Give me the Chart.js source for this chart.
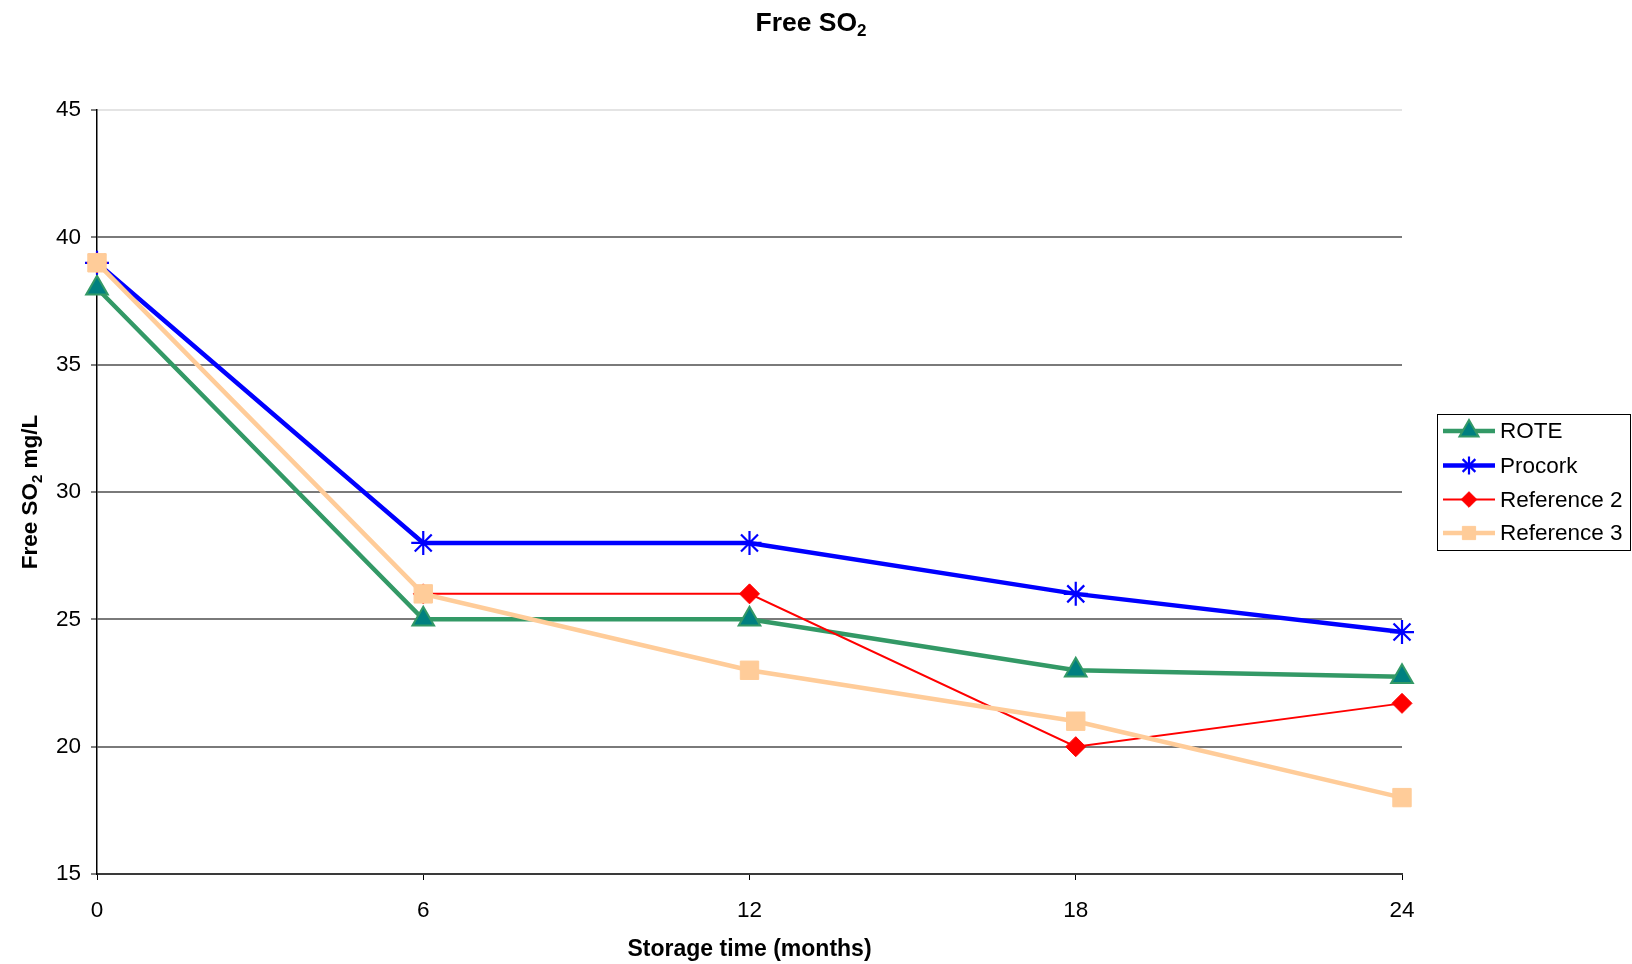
<!DOCTYPE html>
<html>
<head>
<meta charset="utf-8">
<title>Free SO2</title>
<script src="https://cdn.jsdelivr.net/npm/chart.js@4/dist/chart.umd.min.js"></script>
<style>
  html, body { margin: 0; padding: 0; background: #ffffff; }
  #wrap { width: 1632px; height: 964px; position: relative; }
  canvas { display: block; }
</style>
</head>
<body>
<div id="wrap"><canvas id="chart" width="1632" height="964"></canvas></div>
<script>
// Storage time categories (months) and measured free SO2 (mg/L)
const months = ['0', '6', '12', '18', '24'];
const yTickValues = [15, 20, 25, 30, 35, 40, 45];
const rote = [38, 25, 25, 23, 22.75];
const procork = [39, 28, 28, 26, 24.5];
const reference2 = [39, 26, 26, 20, 21.7];
const reference3 = [39, 26, 23, 21, 18];
const seriesNames = ['ROTE', 'Procork', 'Reference 2', 'Reference 3'];

const FONT = '"Liberation Sans", Arial, Helvetica, sans-serif';

const datasets = [
  {
    label: seriesNames[0], data: rote,
    borderColor: '#339966', borderWidth: 4.5,
    pointStyle: 'triangle', pointRadius: 12.5,
    pointBackgroundColor: '#008080', pointBorderColor: '#339966', pointBorderWidth: 2,
    order: 4
  },
  {
    label: seriesNames[1], data: procork,
    borderColor: '#0000ff', borderWidth: 4.5,
    pointStyle: 'star', pointRadius: 12,
    pointBackgroundColor: '#0000ff', pointBorderColor: '#0000ff', pointBorderWidth: 2.2,
    order: 3
  },
  {
    label: seriesNames[2], data: reference2,
    borderColor: '#ff0000', borderWidth: 2,
    pointStyle: 'rectRot', pointRadius: 10,
    pointBackgroundColor: '#ff0000', pointBorderColor: '#ff0000', pointBorderWidth: 1,
    order: 2
  },
  {
    label: seriesNames[3], data: reference3,
    borderColor: '#ffcc99', borderWidth: 4.5,
    pointStyle: 'rect', pointRadius: 13,
    pointBackgroundColor: '#ffcc99', pointBorderColor: '#ffcc99', pointBorderWidth: 1,
    order: 1
  }
].map(d => Object.assign({ tension: 0, fill: false, clip: false, pointHoverRadius: d.pointRadius }, d));

// Draws a run of text pieces (with subscripts) centred on x
function drawRuns(ctx, runs, x, y) {
  let total = 0;
  runs.forEach(r => { ctx.font = r.font; r.w = ctx.measureText(r.text).width; total += r.w; });
  let cx = x - total / 2;
  ctx.textAlign = 'left';
  ctx.textBaseline = 'alphabetic';
  runs.forEach(r => {
    ctx.font = r.font;
    ctx.fillText(r.text, cx, y + (r.dy || 0));
    cx += r.w;
  });
}

const textAndLegend = {
  id: 'textAndLegend',
  afterDraw(chart) {
    const ctx = chart.ctx;
    const area = chart.chartArea;
    ctx.save();
    ctx.fillStyle = '#000000';

    // Chart title
    drawRuns(ctx, [
      { text: 'Free SO', font: 'bold 26.5px ' + FONT },
      { text: '2', font: 'bold 17px ' + FONT, dy: 5 }
    ], 811, 31);

    // Y axis title (rotated)
    ctx.save();
    ctx.translate(36.5, (area.top + area.bottom) / 2);
    ctx.rotate(-Math.PI / 2);
    drawRuns(ctx, [
      { text: 'Free SO', font: 'bold 22.5px ' + FONT },
      { text: '2', font: 'bold 15px ' + FONT, dy: 5 },
      { text: ' mg/L', font: 'bold 22.5px ' + FONT }
    ], 0, 0);
    ctx.restore();

    // Legend box
    const box = { x: 1437.5, y: 414.5, w: 193, h: 136 };
    ctx.fillStyle = '#ffffff';
    ctx.fillRect(box.x, box.y, box.w, box.h);
    ctx.strokeStyle = '#000000';
    ctx.lineWidth = 1;
    ctx.strokeRect(box.x, box.y, box.w, box.h);

    const rowY = [431, 465.5, 499.5, 533];
    const legendScale = [0.88, 0.75, 0.78, 0.72];
    chart.data.datasets.forEach((ds, i) => {
      const y = rowY[i];
      ctx.strokeStyle = ds.borderColor;
      ctx.lineWidth = ds.borderWidth;
      ctx.beginPath();
      ctx.moveTo(1443, y);
      ctx.lineTo(1495, y);
      ctx.stroke();
      ctx.fillStyle = ds.pointBackgroundColor;
      ctx.strokeStyle = ds.pointBorderColor;
      ctx.lineWidth = ds.pointBorderWidth;
      Chart.helpers.drawPoint(ctx, {
        pointStyle: ds.pointStyle,
        radius: ds.pointRadius * legendScale[i],
        rotation: 0,
        borderWidth: ds.pointBorderWidth
      }, 1469, y);
      ctx.fillStyle = '#000000';
      ctx.font = '22.5px ' + FONT;
      ctx.textAlign = 'left';
      ctx.textBaseline = 'middle';
      ctx.fillText(ds.label, 1500, y + 1);
    });
    ctx.restore();
  }
};

new Chart(document.getElementById('chart'), {
  type: 'line',
  data: { labels: months, datasets },
  plugins: [textAndLegend],
  options: {
    responsive: false,
    animation: false,
    devicePixelRatio: 1,
    layout: { padding: { left: 0, top: 110, right: 230, bottom: 0 } },
    plugins: {
      legend: { display: false },
      title: { display: false },
      tooltip: { enabled: false }
    },
    scales: {
      x: {
        type: 'category',
        offset: false,
        afterFit(scale) { scale.height = 90; },
        grid: {
          drawOnChartArea: false,
          drawTicks: true,
          tickLength: 6,
          tickColor: '#000000',
          tickWidth: 1
        },
        border: { display: true, color: '#3a3a3a', width: 2 },
        ticks: {
          color: '#000000',
          font: { family: FONT, size: 22.5 },
          padding: 17,
          maxRotation: 0,
          autoSkip: false
        },
        title: {
          display: true,
          text: 'Storage time (months)',
          color: '#000000',
          font: { family: FONT, size: 23, weight: 'bold' },
          padding: { top: 0, bottom: 1 }
        }
      },
      y: {
        type: 'linear',
        min: yTickValues[0],
        max: yTickValues[yTickValues.length - 1],
        afterFit(scale) { scale.width = 97; },
        afterBuildTicks(scale) { scale.ticks = yTickValues.map(v => ({ value: v })); },
        grid: {
          color: ctx => (ctx.tick && ctx.tick.value === 45 ? '#e4e4e4' : '#7a7a7a'),
          lineWidth: 2,
          drawTicks: true,
          tickLength: 6,
          tickColor: '#000000',
          tickWidth: 1
        },
        border: { display: true, color: '#000000', width: 1.5 },
        ticks: {
          color: '#000000',
          font: { family: FONT, size: 22.5 },
          padding: 10
        }
      }
    }
  }
});
</script>
</body>
</html>
